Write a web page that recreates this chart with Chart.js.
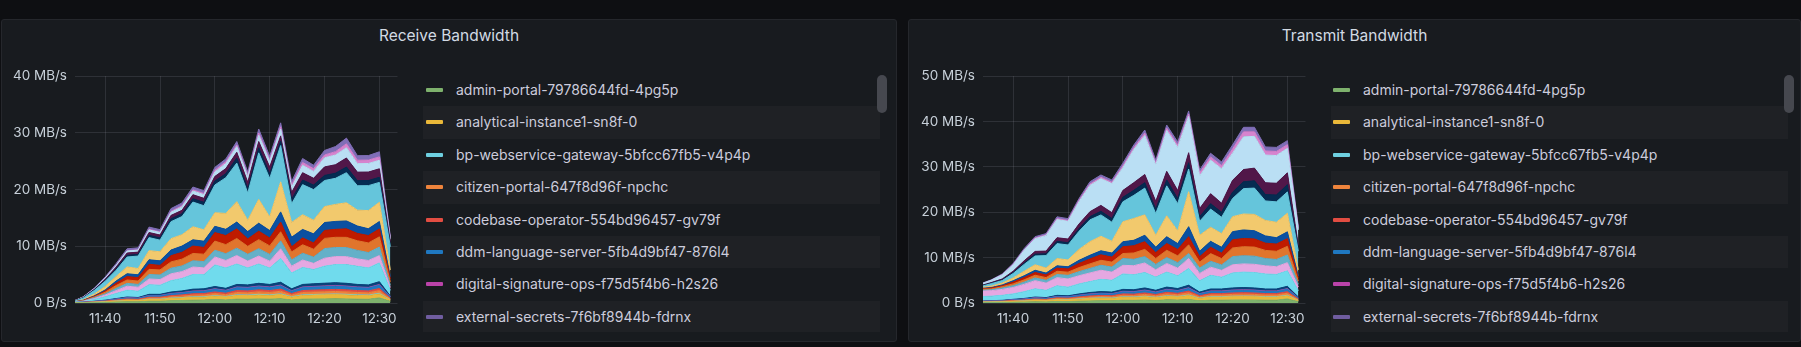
<!DOCTYPE html>
<html>
<head>
<meta charset="utf-8">
<script src="https://cdn.jsdelivr.net/npm/chart.js@4.4.0/dist/chart.umd.min.js"></script>
<style>
  body { margin: 0; background: #0e0f12; width: 1801px; height: 347px; overflow: hidden; font-family: Inter, sans-serif; }
  .panel { position: absolute; top: 19px; height: 323px; background: #181b1f; border: 1px solid #25272c; border-radius: 3px; box-sizing: border-box; }
  .title { position: absolute; top: 26px; color: #d2dae3; font-size: 15.5px; font-weight: 400; text-align: center; }
  canvas { position: absolute; top: 60px; }
  .legend { position: absolute; top: 74px; width: 457px; height: 258px; overflow: hidden; }
  .row { position: relative; height: 32.4px; }
  .row:nth-child(even) { background: #1f2125; }
  .sw { position: absolute; top: 14px; width: 17px; height: 4px; border-radius: 1px; }
  .lbl { position: absolute; top: 7px; color: #ccccdc; font-size: 14px; white-space: nowrap; }
  .thumb { position: absolute; top: 75px; width: 10px; height: 38px; background: #46484f; border-radius: 5px; }
</style>
</head>
<body>
<div class="panel" style="left:1px;width:896px"></div>
<div class="panel" style="left:908px;width:893px"></div>
<div class="title" style="left:1px;width:896px">Receive Bandwidth</div>
<div class="title" style="left:908px;width:893px">Transmit Bandwidth</div>
<canvas id="rx" width="405" height="285" style="left:0px"></canvas>
<canvas id="tx" width="405" height="285" style="left:908px"></canvas>
<div class="legend" id="leg1" style="left:423px"></div>
<div class="legend" id="leg2" style="left:1331px"></div>
<div class="thumb" style="left:877px"></div>
<div class="thumb" style="left:1784px"></div>

<script>
// time axis: minutes after 11:00, one point every 2 minutes
const minutes = [34,36,38,40,42,44,46,48,50,52,54,56,58,60,62,64,66,68,70,72,74,76,78,80,82,84,86,88,90,92];

const names = [
  'admin-portal-79786644fd-4pg5p',
  'analytical-instance1-sn8f-0',
  'bp-webservice-gateway-5bfcc67fb5-v4p4p',
  'citizen-portal-647f8d96f-npchc',
  'codebase-operator-554bd96457-gv79f',
  'ddm-language-server-5fb4d9bf47-876l4',
  'digital-signature-ops-f75d5f4b6-h2s26',
  'external-secrets-7f6bf8944b-fdrnx',
  'pod-09', 'pod-10', 'pod-11', 'pod-12', 'pod-13', 'pod-14', 'pod-15',
  'pod-16', 'pod-17', 'pod-18', 'pod-19', 'pod-20', 'pod-21', 'pod-22'
];
const colors = [
  '#7EB26D', '#EAB839', '#6ED0E0', '#EF843C', '#E24D42', '#1F78C1', '#BA43A9', '#705DA0',
  '#0A437C', '#70DBED', '#E5A8E2', '#64B0C8', '#E0752D', '#BF1B00', '#0A50A1',
  '#F2C96D', '#65C5DB', '#052B51', '#511749', '#BADFF4', '#D683CE', '#806EB7'
];

// receive, MB/s
const rxAdmin = [0.02,0.03,0.06,0.1,0.16,0.22,0.2,0.32,0.32,0.4,0.44,0.5,0.52,0.6,0.54,0.68,0.66,0.72,0.68,0.76,0.52,0.68,0.7,0.72,0.74,0.72,0.68,0.66,0.9,0.3];
const rxAnalytical = [0.02,0.03,0.06,0.1,0.16,0.22,0.2,0.3,0.3,0.4,0.44,0.5,0.5,0.6,0.52,0.66,0.64,0.7,0.66,0.74,0.5,0.66,0.7,0.72,0.74,0.7,0.66,0.64,0.7,0.25];
const rxBp = [0,0,0.01,0.02,0.02,0.03,0.03,0.05,0.05,0.06,0.07,0.08,0.08,0.09,0.08,0.1,0.1,0.11,0.1,0.11,0.08,0.1,0.1,0.11,0.11,0.11,0.1,0.1,0.11,0.04];
const rxCitizen = [0.01,0.02,0.04,0.06,0.1,0.13,0.12,0.19,0.19,0.24,0.26,0.3,0.31,0.36,0.32,0.41,0.4,0.43,0.41,0.46,0.31,0.41,0.42,0.43,0.44,0.43,0.41,0.4,0.46,0.14];
const rxCodebase = [0.01,0.02,0.03,0.05,0.08,0.11,0.1,0.16,0.16,0.2,0.22,0.25,0.26,0.3,0.27,0.34,0.33,0.36,0.34,0.38,0.26,0.34,0.35,0.36,0.37,0.36,0.34,0.33,0.38,0.12];
const rxDdm = [0.02,0.02,0.05,0.08,0.12,0.17,0.15,0.24,0.24,0.3,0.33,0.38,0.39,0.45,0.41,0.51,0.5,0.54,0.51,0.57,0.39,0.51,0.53,0.54,0.56,0.54,0.51,0.5,0.57,0.18];
const rxDigsig = [0,0,0.01,0.01,0.02,0.02,0.02,0.03,0.03,0.04,0.04,0.05,0.05,0.06,0.05,0.07,0.07,0.07,0.07,0.08,0.05,0.07,0.07,0.07,0.07,0.07,0.07,0.07,0.08,0.02];
const rxExtsec = [0,0,0.01,0.01,0.02,0.02,0.02,0.03,0.03,0.04,0.04,0.05,0.05,0.06,0.05,0.06,0.06,0.07,0.06,0.07,0.05,0.06,0.06,0.07,0.07,0.07,0.06,0.06,0.07,0.02];
const rxPod09 = [0.01,0.02,0.04,0.07,0.1,0.14,0.13,0.21,0.21,0.26,0.29,0.33,0.34,0.39,0.35,0.44,0.43,0.47,0.44,0.49,0.34,0.44,0.46,0.47,0.48,0.47,0.44,0.43,0.49,0.16];
const rxPod10 = [0.05,0.1,0.3,0.6,0.9,1.2,1.1,1.7,1.6,2.0,2.2,2.6,2.5,3.8,3.6,3.6,3.0,3.4,2.9,4.2,2.8,3.0,2.5,3.0,3.2,3.3,3.2,3.0,3.3,1.0];
const rxPod11 = [0,0.05,0.15,0.3,0.5,0.7,0.7,1.0,1.0,1.2,1.2,1.3,1.2,1.4,1.3,1.5,1.2,1.4,1.2,1.7,1.2,1.3,1.1,1.4,1.4,1.4,1.3,1.3,1.3,0.5];
const rxPod12 = [0,0.05,0.15,0.2,0.4,0.5,0.5,0.8,0.8,1.0,1.0,1.1,1.1,1.2,1.2,1.3,1.2,1.3,1.2,1.4,1.1,1.2,1.1,1.7,1.6,1.6,1.5,1.4,1.5,0.4];
const rxPod13 = [0,0.05,0.15,0.3,0.5,0.6,0.6,0.9,0.9,1.1,1.2,1.3,1.3,1.6,1.6,1.7,1.4,1.6,1.5,1.6,1.4,1.5,1.4,1.8,1.8,1.8,1.7,1.7,1.8,0.6];
const rxPod14 = [0,0.05,0.1,0.2,0.4,0.6,0.6,0.9,0.8,1.1,1.2,1.3,1.2,1.5,1.6,1.7,1.3,1.5,1.4,1.7,0.9,1.2,1.1,1.4,1.4,1.5,1.3,1.3,1.4,0.5];
const rxPod15 = [0,0.05,0.1,0.2,0.4,0.5,0.5,0.8,0.8,1.0,1.1,1.1,1.1,1.1,1.1,1.2,1.3,1.4,1.3,1.8,1.7,1.5,1.6,1.4,1.4,1.4,1.3,1.2,1.3,0.4];
const rxPod16 = [0,0.1,0.3,0.6,0.8,1.2,1.1,1.6,1.6,2.0,2.0,2.3,2.0,2.4,2.8,3.6,2.0,4.2,2.4,5.3,2.6,2.6,2.4,2.8,3.0,3.2,2.8,3.2,3.4,1.2];
const rxPod17 = [0.02,0.3,0.64,0.93,1.1,1.75,2.2,2.3,2.05,3.0,3.2,4.35,4.25,4.9,6.3,6.8,4.8,8.2,6.8,6.4,3.3,5.3,5.4,4.6,4.6,5.3,4.3,4.4,3.5,4.1];
const rxPod18 = [0.02,0.05,0.1,0.15,0.25,0.3,0.3,0.4,0.4,0.5,0.5,0.6,0.6,0.7,0.7,0.9,0.8,0.9,0.8,0.8,0.8,0.8,0.8,0.9,0.9,1.0,0.9,0.9,0.9,0.3];
const rxPod19 = [0.02,0.05,0.1,0.2,0.3,0.4,0.4,0.5,0.5,0.6,0.6,0.7,0.7,0.8,0.9,1.0,1.1,1.1,1.2,0.9,1.2,1.3,1.2,1.5,1.5,1.6,1.5,1.5,1.5,0.6];
const rxPod20 = [0.02,0.05,0.1,0.2,0.3,0.35,0.35,0.45,0.45,0.55,0.6,0.65,0.65,0.8,0.9,1.0,0.9,1.1,1.0,1.2,0.9,1.3,1.2,1.6,1.7,1.8,1.5,1.5,1.5,0.4];
const rxPod21 = [0,0,0.01,0.02,0.03,0.05,0.05,0.1,0.1,0.15,0.2,0.2,0.2,0.3,0.3,0.3,0.3,0.4,0.3,0.4,0.4,0.5,0.5,0.5,0.6,0.7,0.6,0.6,0.6,0.2];
const rxPod22 = [0.02,0.05,0.1,0.2,0.3,0.35,0.35,0.4,0.4,0.5,0.5,0.5,0.5,0.5,0.5,0.6,0.6,0.7,0.6,0.7,0.6,0.7,0.6,0.8,0.9,1.0,0.8,0.8,0.9,0.3];

// transmit, MB/s
const txAdmin = [0.08,0.1,0.12,0.16,0.2,0.26,0.24,0.34,0.32,0.4,0.46,0.5,0.48,0.6,0.58,0.66,0.56,0.7,0.64,0.78,0.48,0.62,0.62,0.66,0.68,0.66,0.62,0.62,0.9,0.3];
const txAnalytical = [0.09,0.11,0.13,0.18,0.22,0.29,0.26,0.37,0.35,0.44,0.51,0.55,0.53,0.66,0.64,0.73,0.62,0.77,0.7,0.86,0.53,0.68,0.68,0.73,0.75,0.73,0.68,0.68,0.7,0.25];
const txBp = [0.01,0.02,0.02,0.02,0.03,0.04,0.04,0.05,0.05,0.06,0.07,0.08,0.07,0.09,0.09,0.1,0.08,0.11,0.1,0.12,0.07,0.09,0.09,0.1,0.1,0.1,0.09,0.09,0.11,0.04];
const txCitizen = [0.05,0.06,0.07,0.1,0.12,0.16,0.14,0.2,0.19,0.24,0.28,0.3,0.29,0.36,0.35,0.4,0.34,0.42,0.38,0.47,0.29,0.37,0.37,0.4,0.41,0.4,0.37,0.37,0.43,0.16];
const txCodebase = [0.04,0.05,0.06,0.08,0.1,0.13,0.12,0.17,0.16,0.2,0.23,0.25,0.24,0.3,0.29,0.33,0.28,0.35,0.32,0.39,0.24,0.31,0.31,0.33,0.34,0.33,0.31,0.31,0.36,0.13];
const txDdm = [0.06,0.08,0.09,0.12,0.15,0.2,0.18,0.26,0.24,0.3,0.35,0.38,0.36,0.45,0.44,0.5,0.42,0.53,0.48,0.59,0.36,0.47,0.47,0.5,0.51,0.5,0.47,0.47,0.54,0.2];
const txDigsig = [0.01,0.01,0.01,0.02,0.02,0.03,0.02,0.03,0.03,0.04,0.05,0.05,0.05,0.06,0.06,0.07,0.06,0.07,0.06,0.08,0.05,0.06,0.06,0.07,0.07,0.07,0.06,0.06,0.07,0.03];
const txExtsec = [0.01,0.01,0.01,0.02,0.02,0.03,0.02,0.03,0.03,0.04,0.05,0.05,0.05,0.06,0.06,0.07,0.06,0.07,0.06,0.08,0.05,0.06,0.06,0.07,0.07,0.07,0.06,0.06,0.07,0.03];
const txPod09 = [0.06,0.07,0.08,0.11,0.14,0.18,0.17,0.24,0.22,0.28,0.32,0.35,0.34,0.42,0.41,0.46,0.39,0.49,0.45,0.55,0.34,0.43,0.43,0.46,0.48,0.46,0.43,0.43,0.5,0.18];
const txPod10 = [1.0,1.0,1.1,1.2,1.5,1.8,1.6,2.1,1.9,2.2,2.4,2.7,2.6,3.4,3.3,3.4,2.9,3.3,2.8,3.7,2.5,3.0,2.6,3.3,3.4,3.4,3.3,3.2,3.4,1.4];
const txPod11 = [1.2,1.2,1.3,1.4,1.6,1.8,1.6,1.8,1.8,1.8,1.9,2.0,1.8,1.9,2.0,2.1,1.6,1.9,1.7,2.2,1.6,1.8,1.5,1.8,1.8,1.8,1.8,1.7,1.8,0.8];
const txPod12 = [0.2,0.2,0.3,0.4,0.5,0.6,0.6,0.7,0.8,0.9,1.0,1.1,1.1,1.5,1.4,1.4,1.2,1.3,1.2,1.1,1.2,1.3,1.2,1.8,1.8,1.8,1.6,1.6,1.7,0.6];
const txPod13 = [0.2,0.2,0.3,0.4,0.5,0.6,0.6,0.7,0.7,0.9,1.0,1.1,1.1,1.1,1.4,1.6,1.3,1.6,1.5,1.9,1.3,1.7,1.4,1.9,2.0,2.0,1.8,1.8,1.9,0.7];
const txPod14 = [0.1,0.2,0.2,0.4,0.5,0.6,0.6,0.7,0.7,0.9,1.1,1.2,1.1,1.5,1.6,1.7,1.3,1.5,1.4,1.8,1.2,1.4,1.2,1.8,1.8,1.8,1.6,1.6,1.7,0.6];
const txPod15 = [0.1,0.1,0.2,0.3,0.4,0.5,0.4,0.5,0.5,0.7,0.8,0.9,0.9,1.1,1.2,1.4,1.2,1.5,1.3,2.2,1.2,1.3,1.3,1.8,1.9,1.8,1.6,1.4,1.5,0.5];
const txPod16 = [0.2,0.3,0.4,0.6,1.0,1.2,1.1,1.6,1.5,2.4,3.0,3.2,2.6,4.4,4.8,4.5,2.6,4.6,2.8,7.7,3.5,3.1,3.0,3.3,3.5,3.6,3.4,3.4,4.1,1.4];
const txPod17 = [0.2,0.55,0.55,1.0,1.5,1.95,2.75,3.3,3.3,4.0,4.8,4.7,4.2,4.4,5.1,5.9,4.8,6.6,6.0,5.0,3.1,4.0,3.6,4.0,5.6,5.8,4.3,4.5,4.7,4.1];
const txPod18 = [0.1,0.1,0.15,0.2,0.3,0.4,0.4,0.5,0.5,0.6,0.7,0.8,0.8,1.0,1.1,1.2,1.0,1.3,1.1,1.4,1.0,1.2,1.1,1.4,1.5,1.6,1.4,1.5,1.6,0.5];
const txPod19 = [0.1,0.15,0.2,0.3,0.5,0.6,0.6,0.8,0.8,1.0,1.1,1.3,1.3,1.5,1.7,1.8,1.7,1.9,1.8,2.2,1.8,2.2,2.0,2.6,2.7,2.8,2.6,2.6,2.6,0.8];
const txPod20 = [0.3,0.5,0.9,1.4,2.3,2.8,3.4,4.0,3.9,4.9,5.8,5.9,6.4,5.0,7.3,8.6,8.0,9.0,9.5,8.0,7.2,7.4,7.6,6.0,7.2,7.0,6.1,6.1,5.4,3.4];
const txPod21 = [0,0,0.05,0.1,0.1,0.15,0.15,0.2,0.2,0.3,0.3,0.3,0.3,0.4,0.4,0.5,0.4,0.5,0.5,0.5,0.7,0.7,0.7,0.9,1.1,1.0,0.9,0.9,0.8,0.3];
const txPod22 = [0.1,0.1,0.15,0.2,0.3,0.3,0.3,0.4,0.4,0.4,0.5,0.5,0.5,0.6,0.6,0.7,0.7,0.7,0.7,0.7,0.6,0.8,0.8,0.9,1.0,1.0,0.9,0.9,0.9,0.4];

const rxSeries = [rxAdmin, rxAnalytical, rxBp, rxCitizen, rxCodebase, rxDdm, rxDigsig, rxExtsec,
  rxPod09, rxPod10, rxPod11, rxPod12, rxPod13, rxPod14, rxPod15, rxPod16, rxPod17, rxPod18, rxPod19, rxPod20, rxPod21, rxPod22];
const txSeries = [txAdmin, txAnalytical, txBp, txCitizen, txCodebase, txDdm, txDigsig, txExtsec,
  txPod09, txPod10, txPod11, txPod12, txPod13, txPod14, txPod15, txPod16, txPod17, txPod18, txPod19, txPod20, txPod21, txPod22];

const tickFont = { family: 'Inter', size: 13.5 };
const gridColor = 'rgba(204, 204, 220, 0.13)';

function toTime(v) {
  const h = 11 + Math.floor(v / 60);
  const m = v % 60;
  return h + ':' + (m < 10 ? '0' + m : m);
}

function makeChart(id, series, yMax) {
  const datasets = series.map((vals, i) => ({
    label: names[i],
    data: vals.map((v, k) => ({ x: minutes[k], y: v })),
    backgroundColor: colors[i],
    borderColor: colors[i],
    borderWidth: 1,
    fill: i === 0 ? 'origin' : '-1',
    pointRadius: 0,
    tension: 0
  }));
  return new Chart(document.getElementById(id), {
    type: 'line',
    data: { datasets },
    options: {
      responsive: false,
      animation: false,
      layout: { padding: { top: 16, right: 7, bottom: 12, left: 0 } },
      plugins: { legend: { display: false }, tooltip: { enabled: false } },
      scales: {
        x: {
          type: 'linear', min: 34.5, max: 93.3,
          grid: { color: gridColor, drawTicks: false },
          border: { display: false },
          ticks: { stepSize: 10, includeBounds: false, padding: 8, color: '#c7d0d9', font: tickFont, maxRotation: 0, callback: toTime },
          afterFit(s) { s.height = 30; }
        },
        y: {
          stacked: true, min: 0, max: yMax,
          grid: { color: gridColor, drawTicks: false },
          border: { display: false },
          ticks: { stepSize: 10, padding: 8, color: '#c7d0d9', font: tickFont, callback: v => v === 0 ? '0 B/s' : v + ' MB/s' },
          afterFit(s) { s.width = 75; }
        }
      }
    }
  });
}

makeChart('rx', rxSeries, 40);
makeChart('tx', txSeries, 50);

// legend list, only the first rows are visible in the scroll box
function makeLegend(id, swLeft, txtLeft) {
  const box = document.getElementById(id);
  names.slice(0, 8).forEach((n, i) => {
    const row = document.createElement('div');
    row.className = 'row';
    row.innerHTML = '<div class="sw" style="left:' + swLeft + 'px;background:' + colors[i] + '"></div>' +
      '<div class="lbl" style="left:' + txtLeft + 'px">' + n + '</div>';
    box.appendChild(row);
  });
}
makeLegend('leg1', 3, 33);
makeLegend('leg2', 2, 32);
</script>
</body>
</html>
